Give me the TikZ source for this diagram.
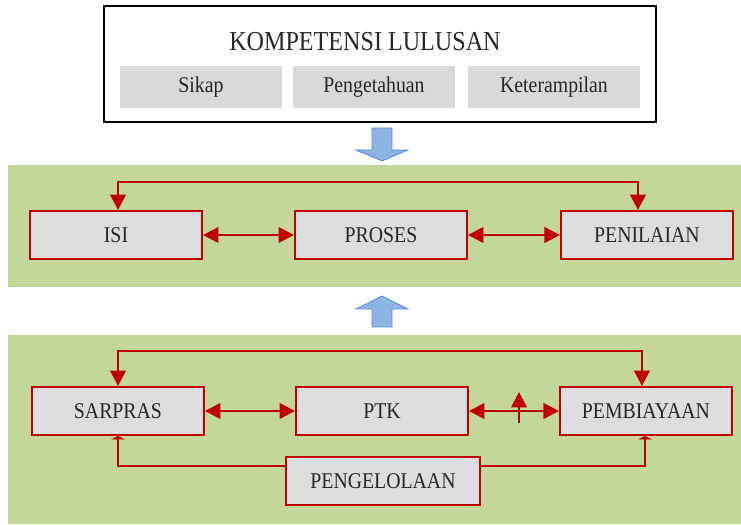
\documentclass[tikz,border=0pt]{standalone}
\usepackage{fontspec}
\setmainfont[FakeStretch=0.88]{Liberation Serif}
\usepackage{xcolor}
\usepackage{tikz}
\usetikzlibrary{positioning,calc,arrows.meta}

\definecolor{bandgreen}{HTML}{C4D79B}
\definecolor{linered}{HTML}{C00000}
\definecolor{boxgray}{HTML}{DCDDDF}
\definecolor{softgray}{HTML}{D9D9D9}
\definecolor{arrowblue}{HTML}{8DB4E2}
\definecolor{arrowedge}{HTML}{558ED5}
\definecolor{textgray}{HTML}{262626}

\begin{document}
\begin{tikzpicture}[
    every node/.style={text=textgray},
    redbox/.style={rectangle, draw=linered, line width=1.4pt, fill=boxgray, minimum width=4.3cm, minimum height=1.2cm, font=\fontsize{16}{19}\selectfont},
    subbox/.style={rectangle, fill=softgray, minimum width=4.05cm, minimum height=1.05cm, font=\fontsize{16}{19}\selectfont},
    redline/.style={draw=linered, line width=1.9pt, {Triangle[width=11pt,length=11pt]}-{Triangle[width=11pt,length=11pt]}},
    blockarrow/.style={fill=arrowblue, draw=arrowedge, line width=0.6pt}
]
    \useasboundingbox (0,0) rectangle (18.525,13.1);

    % Kompetensi lulusan
    \node[draw=black, line width=1pt, minimum width=13.8cm, minimum height=2.9cm] (komp) at (9.5, 11.5) {};
    \node[font=\fontsize{19.5}{23}\selectfont] (title) at (9.125, 12.05) {KOMPETENSI LULUSAN};
    \node[subbox] (sikap) at (5.025, 10.925) {Sikap};
    \node[subbox] (tahu) at (9.35, 10.925) {Pengetahuan};
    \node[subbox, minimum width=4.3cm] (terampil) at (13.85, 10.925) {Keterampilan};

    % Blue arrows
    \draw[blockarrow] (9.3,9.9) -- (9.8,9.9) -- (9.8,9.35) -- (10.2,9.35) -- (9.55,9.075) -- (8.9,9.35) -- (9.3,9.35) -- cycle;
    \draw[blockarrow] (9.3,4.925) -- (9.8,4.925) -- (9.8,5.375) -- (10.2,5.375) -- (9.55,5.7) -- (8.9,5.375) -- (9.3,5.375) -- cycle;

    % Standar isi, proses, penilaian
    \fill[bandgreen] (0.2,5.925) rectangle (18.525,8.975);
    \node[redbox] (isi) at (2.9, 7.225) {ISI};
    \node[redbox, right=2.275cm of isi] (proses) {PROSES};
    \node[redbox, right=2.3cm of proses] (nilai) {PENILAIAN};
    \draw[redline] (isi) -- (proses);
    \draw[redline] (proses) -- (nilai);
    \draw[redline] ([xshift=0.05cm]isi.north) -- ++(0,0.7) -| ([xshift=-0.225cm]nilai.north);

    % Sarpras, PTK, pembiayaan, pengelolaan
    \fill[bandgreen] (0.2,0) rectangle (18.525,4.725);
    \node[redbox] (sarpras) at (2.95, 2.825) {SARPRAS};
    \node[redbox, right=2.25cm of sarpras] (ptk) {PTK};
    \node[redbox, right=2.25cm of ptk] (biaya) {PEMBIAYAAN};
    \node[redbox, minimum width=4.85cm, minimum height=1.18cm] (kelola) at (9.575, 1.075) {PENGELOLAAN};
    \draw[redline] (sarpras) -- (ptk);
    \draw[redline] (ptk) -- (biaya);
    \draw[redline] (sarpras.north) -- ++(0,0.875) -| ([xshift=-0.1cm]biaya.north);
    \draw[redline, {Triangle[width=10pt,length=2.5pt]}-] (sarpras.south) |- ([yshift=0.375cm]kelola.west);
    \draw[redline, -{Triangle[width=10pt,length=2.5pt]}] ([yshift=0.375cm]kelola.east) -| ([xshift=-0.025cm]biaya.south);
    \coordinate (tickfoot) at (12.975, 2.525);
    \coordinate (tickhead) at (12.975, 3.3);
    \draw[redline, -{Triangle[width=11pt,length=11pt]}] (tickfoot) -- (tickhead);
\end{tikzpicture}
\end{document}
